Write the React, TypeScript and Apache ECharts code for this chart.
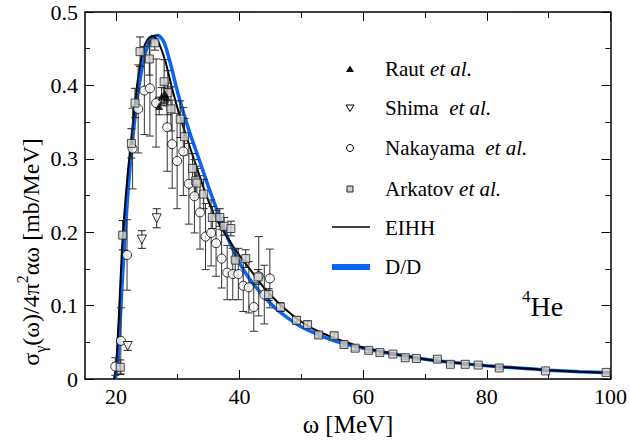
import React, { useEffect, useRef } from "react";
import * as echarts from "echarts";

// ---- data (omega [MeV], sigma/4pi^2 alpha omega [mb/MeV]) ----
const eihhCurve: [number, number][] = [
  [19.7, 0], [20, 0.015], [20.5, 0.09], [21, 0.18], [21.5, 0.24], [22, 0.288], [22.5, 0.328],
  [23, 0.37], [23.5, 0.405], [24, 0.432], [24.5, 0.451], [25, 0.461], [25.5, 0.466], [26, 0.467],
  [26.5, 0.464], [27, 0.457], [28, 0.433], [29, 0.399], [30, 0.368], [31, 0.341], [32, 0.315],
  [33, 0.29], [34, 0.265], [35, 0.242], [36, 0.222], [38, 0.193], [40, 0.168], [42, 0.146],
  [44, 0.124], [46, 0.106], [48, 0.091], [50, 0.078], [52, 0.068], [55, 0.057], [58, 0.048],
  [60, 0.043], [65, 0.034], [70, 0.027], [75, 0.022], [80, 0.018], [85, 0.015], [90, 0.012],
  [95, 0.01], [100, 0.0085],
];
const ddCurve: [number, number][] = [
  [19.9, 0], [20.3, 0.02], [21, 0.13], [21.5, 0.2], [22, 0.26], [22.5, 0.31], [23, 0.35],
  [23.5, 0.385], [24, 0.413], [24.5, 0.435], [25, 0.451], [25.5, 0.461], [26, 0.466],
  [26.8, 0.468], [27.5, 0.463], [28, 0.454], [29, 0.424], [30, 0.39], [31, 0.361], [32, 0.334],
  [33, 0.31], [34, 0.286], [35, 0.261], [36, 0.238], [37, 0.215], [38, 0.194], [39, 0.175],
  [40, 0.158], [41, 0.144], [42, 0.132], [44, 0.112], [46, 0.095], [48, 0.082], [50, 0.071],
  [55, 0.053], [60, 0.042], [65, 0.034], [70, 0.027], [75, 0.022], [80, 0.018], [85, 0.015],
  [90, 0.012], [95, 0.01], [100, 0.0085],
];
// [omega, value, error]
const rautData: [number, number, number][] = [
  [27.0, 0.372, 0.012], [27.4, 0.385, 0.012], [27.9, 0.389, 0.012], [28.2, 0.384, 0.012],
];
const shimaData: [number, number, number][] = [
  [21.9, 0.045, 0.006], [24.2, 0.19, 0.012], [26.6, 0.219, 0.013],
];
const nakayamaData: [number, number, number][] = [
  [19.9, 0.017, 0.012], [20.8, 0.052, 0.045], [21.8, 0.169, 0.048], [22.7, 0.314, 0.055],
  [23.6, 0.368, 0.06], [24.6, 0.393, 0.06], [25.5, 0.396, 0.065], [26.5, 0.376, 0.06],
  [28.3, 0.343, 0.06], [29.1, 0.32, 0.06], [29.9, 0.297, 0.065], [30.9, 0.31, 0.06],
  [31.8, 0.266, 0.055], [32.7, 0.249, 0.05], [33.6, 0.227, 0.05], [34.5, 0.194, 0.045],
  [35.4, 0.199, 0.045], [36.2, 0.185, 0.045], [37.1, 0.164, 0.04], [38.0, 0.145, 0.037],
  [38.9, 0.143, 0.035], [39.8, 0.143, 0.035], [40.6, 0.127, 0.035], [41.5, 0.125, 0.035],
  [42.3, 0.098, 0.033], [43.1, 0.14, 0.054], [44.0, 0.115, 0.04], [44.9, 0.137, 0.04],
];
const arkatovData: [number, number, number][] = [
  [20.7, 0.016, 0.01], [21.1, 0.196, 0.02], [22.5, 0.321, 0.02], [23.1, 0.376, 0.02],
  [23.9, 0.446, 0.02], [25.4, 0.436, 0.022], [26.3, 0.458, 0.01], [27.8, 0.405, 0.03],
  [28.4, 0.39, 0.03], [28.9, 0.368, 0.03], [30.4, 0.354, 0.025], [31.1, 0.33, 0.025],
  [32.4, 0.287, 0.02], [32.9, 0.27, 0.02], [33.1, 0.267, 0.02], [34.2, 0.252, 0.02],
  [35.6, 0.22, 0.015], [36.8, 0.22, 0.012], [37.5, 0.208, 0.012], [38.6, 0.205, 0.01],
  [39.3, 0.162, 0.015], [41.0, 0.164, 0.012], [43.0, 0.139, 0.01], [44.7, 0.115, 0.008],
  [46.6, 0.098, 0.006], [49.2, 0.08, 0.005], [51.0, 0.074, 0.005], [52.8, 0.06, 0.004],
  [55.3, 0.059, 0.004], [56.9, 0.047, 0.003], [58.7, 0.042, 0.003], [60.9, 0.039, 0.003],
  [62.7, 0.036, 0.003], [64.8, 0.034, 0.002], [66.8, 0.029, 0.002], [68.6, 0.028, 0.002],
  [72.0, 0.027, 0.002], [74.1, 0.02, 0.002], [76.5, 0.02, 0.002], [78.6, 0.019, 0.002],
  [82.0, 0.015, 0.002], [89.5, 0.011, 0.001], [99.3, 0.009, 0.001],
];
const xMajorTicks = [20, 40, 60, 80, 100];
const xMinorTicks = [30, 50, 70, 90];
const legendLabels = [
  ["Raut ", "et al."],
  ["Shima  ", "et al."],
  ["Nakayama  ", "et al."],
  ["Arkatov ", "et al."],
  ["EIHH", ""],
  ["D/D", ""],
];

const FONT = "Liberation Serif";
const BLUE = "#0a64f5";

function errBars(data: [number, number, number][], color: string) {
  return {
    type: "custom",
    z: 3,
    clip: true,
    silent: true,
    data: data.map((d) => [d[0], d[1], d[1] - d[2], d[1] + d[2]]),
    encode: { x: 0, y: 1 },
    renderItem: (params: any, api: any) => {
      const x = api.value(0);
      const p1 = api.coord([x, api.value(2)]);
      const p2 = api.coord([x, api.value(3)]);
      const w = 4;
      const st = { stroke: color, lineWidth: 1 };
      return {
        type: "group",
        children: [
          { type: "line", shape: { x1: p1[0], y1: p1[1], x2: p2[0], y2: p2[1] }, style: st },
          { type: "line", shape: { x1: p1[0] - w, y1: p1[1], x2: p1[0] + w, y2: p1[1] }, style: st },
          { type: "line", shape: { x1: p2[0] - w, y1: p2[1], x2: p2[0] + w, y2: p2[1] }, style: st },
        ],
      };
    },
  };
}

export default function App() {
  const ref = useRef<HTMLDivElement>(null);
  useEffect(() => {
    if (!ref.current) return;
    const chart = echarts.init(ref.current, null, { renderer: "svg" });
    const axisLine = { show: true, lineStyle: { color: "#000", width: 1.5 } };
    const xBase = { type: "value", min: 15, max: 100, splitLine: { show: false } };
    const lx = 332, rx = 370, tx = 385;
    const rowsY = [69, 108, 148, 189, 228, 267];
    const textStyle = (y: number, i: number) => ({
      type: "text",
      x: tx,
      y,
      style: {
        text: legendLabels[i][1]
          ? `{n|${legendLabels[i][0]}}{it|${legendLabels[i][1]}}`
          : `{n|${legendLabels[i][0]}}`,
        rich: {
          n: { fontFamily: FONT, fontSize: 21, fill: "#000" },
          it: { fontFamily: FONT, fontSize: 21, fontStyle: "italic", fill: "#000" },
        },
        verticalAlign: "middle",
        align: "left",
      },
    });
    const option: any = {
      animation: false,
      backgroundColor: "#fff",
      grid: { left: 85, right: 19, top: 12, bottom: 62 },
      xAxis: [
        {
          ...xBase,
          position: "bottom",
          axisLine,
          axisTick: { inside: true, length: 9, customValues: xMajorTicks, lineStyle: { color: "#000", width: 1 } },
          axisLabel: { customValues: xMajorTicks, fontFamily: FONT, fontSize: 22, color: "#000", margin: 6 },
        },
        {
          ...xBase,
          position: "bottom",
          axisLine: { show: false },
          axisTick: { inside: true, length: 5, customValues: xMinorTicks, lineStyle: { color: "#000", width: 1 } },
          axisLabel: { show: false },
        },
        {
          ...xBase,
          position: "top",
          axisLine,
          axisTick: { inside: true, length: 9, customValues: xMajorTicks, lineStyle: { color: "#000", width: 1 } },
          axisLabel: { show: false },
        },
        {
          ...xBase,
          position: "top",
          axisLine: { show: false },
          axisTick: { inside: true, length: 6, customValues: xMinorTicks, lineStyle: { color: "#000", width: 1 } },
          axisLabel: { show: false },
        },
      ],
      yAxis: [
        {
          type: "value",
          position: "left",
          min: 0,
          max: 0.5,
          interval: 0.1,
          splitLine: { show: false },
          axisLine,
          axisTick: { inside: true, length: 9, lineStyle: { color: "#000", width: 1 } },
          minorTick: { show: true, splitNumber: 2, length: 5, lineStyle: { color: "#000", width: 1 } },
          minorSplitLine: { show: false },
          axisLabel: {
            fontFamily: FONT,
            fontSize: 22,
            color: "#000",
            margin: 7,
            formatter: (v: number) => (v === 0 ? "0" : v.toFixed(1)),
          },
        },
        {
          type: "value",
          position: "right",
          min: 0,
          max: 0.5,
          interval: 0.1,
          splitLine: { show: false },
          axisLine,
          axisTick: { inside: true, length: 9, lineStyle: { color: "#000", width: 1 } },
          minorTick: { show: true, splitNumber: 2, length: 5, lineStyle: { color: "#000", width: 1 } },
          minorSplitLine: { show: false },
          axisLabel: { show: false },
        },
      ],
      series: [
        {
          name: "D/D",
          type: "line",
          data: ddCurve,
          showSymbol: false,
          smooth: 0.2,
          z: 2,
          lineStyle: { color: BLUE, width: 3.5 },
        },
        {
          name: "EIHH",
          type: "line",
          data: eihhCurve,
          showSymbol: false,
          smooth: 0.2,
          z: 2,
          lineStyle: { color: "#000", width: 2 },
        },
        errBars(nakayamaData, "#333"),
        errBars(arkatovData, "#222"),
        errBars(shimaData, "#222"),
        errBars(rautData, "#222"),
        {
          name: "Nakayama",
          type: "scatter",
          z: 4,
          symbol: "circle",
          symbolSize: 9,
          data: nakayamaData.map((d) => [d[0], d[1]]),
          itemStyle: { color: "#fff", borderColor: "#000", borderWidth: 1 },
        },
        {
          name: "Arkatov",
          type: "scatter",
          z: 4,
          symbol: "rect",
          symbolSize: 8,
          data: arkatovData.map((d) => [d[0], d[1]]),
          itemStyle: { color: "#cfcfcf", borderColor: "#222", borderWidth: 1 },
        },
        {
          name: "Shima",
          type: "scatter",
          z: 4,
          symbol: "triangle",
          symbolRotate: 180,
          symbolSize: 9,
          data: shimaData.map((d) => [d[0], d[1]]),
          itemStyle: { color: "#fff", borderColor: "#000", borderWidth: 1 },
        },
        {
          name: "Raut",
          type: "scatter",
          z: 4,
          symbol: "triangle",
          symbolSize: 8,
          data: rautData.map((d) => [d[0], d[1]]),
          itemStyle: { color: "#000" },
        },
      ],
      graphic: [
        // legend markers
        { type: "polygon", shape: { points: [[350, 65.5], [354, 72], [346, 72]] }, style: { fill: "#000" } },
        {
          type: "polygon",
          shape: { points: [[346, 105], [354, 105], [350, 111.5]] },
          style: { fill: "#fff", stroke: "#000", lineWidth: 1 },
        },
        { type: "circle", shape: { cx: 350, cy: 148, r: 3.5 }, style: { fill: "#fff", stroke: "#000", lineWidth: 1 } },
        {
          type: "rect",
          shape: { x: 347, y: 186, width: 6, height: 6 },
          style: { fill: "#cfcfcf", stroke: "#222", lineWidth: 1 },
        },
        { type: "line", shape: { x1: lx, y1: 227, x2: rx, y2: 227 }, style: { stroke: "#000", lineWidth: 1.5 } },
        { type: "line", shape: { x1: lx, y1: 267, x2: rx, y2: 267 }, style: { stroke: BLUE, lineWidth: 6 } },
        ...rowsY.map((y, i) => textStyle(y, i)),
        // 4He label
        {
          type: "text",
          x: 522,
          y: 320,
          style: {
            text: "{sup|4}{n|He}",
            rich: {
              sup: { fontFamily: FONT, fontSize: 17, fill: "#000", verticalAlign: "top", lineHeight: 32 },
              n: { fontFamily: FONT, fontSize: 28, fill: "#000", verticalAlign: "bottom", lineHeight: 32 },
            },
            align: "left",
            verticalAlign: "bottom",
          },
        },
        // x axis title
        {
          type: "text",
          x: 348,
          y: 424,
          style: {
            text: "ω [MeV]",
            fontFamily: FONT,
            fontSize: 25,
            fill: "#000",
            align: "center",
            verticalAlign: "middle",
          },
        },
        // y axis title
        {
          type: "text",
          x: 31,
          y: 252,
          rotation: Math.PI / 2,
          style: {
            text: "{n|σ}{sub|γ}{n|(ω)/4π}{sup|2}{n|αω [mb/MeV]}",
            rich: {
              n: { fontFamily: FONT, fontSize: 24, fill: "#000", lineHeight: 34, verticalAlign: "middle" },
              sub: { fontFamily: FONT, fontSize: 16, fill: "#000", lineHeight: 34, verticalAlign: "bottom" },
              sup: { fontFamily: FONT, fontSize: 16, fill: "#000", lineHeight: 34, verticalAlign: "top" },
            },
            align: "center",
            verticalAlign: "middle",
          },
        },
      ],
    };
    chart.setOption(option);
    return () => chart.dispose();
  }, []);
  return <div ref={ref} style={{ position: "fixed", left: 0, top: 0, width: 630, height: 441 }} />;
}
